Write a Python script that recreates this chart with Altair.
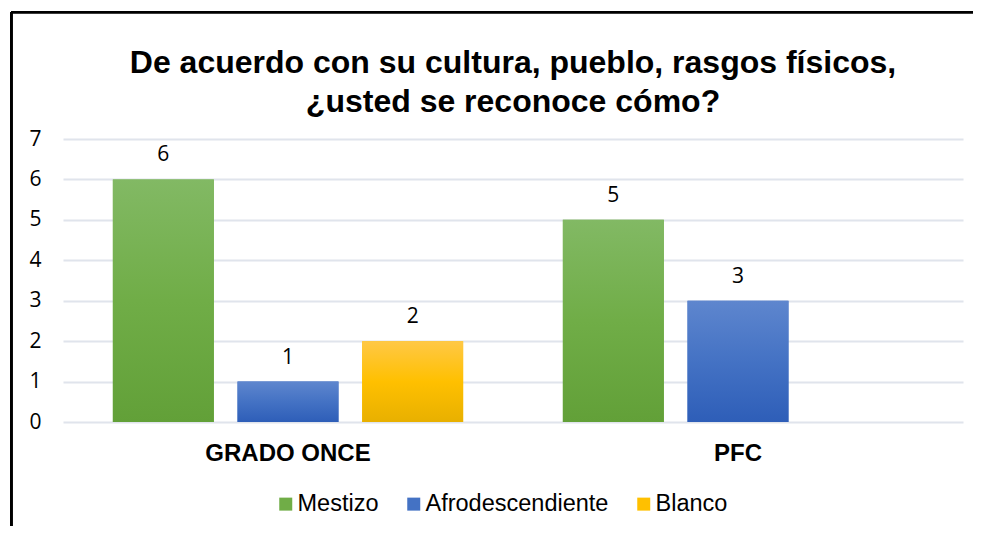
import altair as alt
import pandas as pd

groups = ["GRADO ONCE", "GRADO ONCE", "GRADO ONCE", "PFC", "PFC"]
series = ["Mestizo", "Afrodescendiente", "Blanco", "Mestizo", "Afrodescendiente"]
values = [6, 1, 2, 5, 3]

series_order = ["Mestizo", "Afrodescendiente", "Blanco"]
group_order = ["GRADO ONCE", "PFC"]
y_ticks = [0, 1, 2, 3, 4, 5, 6, 7]
title_lines = ["De acuerdo con su cultura, pueblo, rasgos físicos,", "¿usted se reconoce cómo?"]

base_colors = ["#70ad47", "#4472c4", "#ffc000"]
gradients = {
    "Mestizo": ["#82b964", "#70ad47", "#62a038"],
    "Afrodescendiente": ["#5e86ce", "#4472c4", "#2e5eb8"],
    "Blanco": ["#ffc846", "#ffc000", "#e8b000"],
}

df = pd.DataFrame({"grupo": groups, "serie": series, "valor": values})

W, H = 900, 283
PAD_L, PAD_T = 55, 131
SVG_W, SVG_H = 965, 518

x_enc = alt.X("grupo:N", sort=group_order,
              scale=alt.Scale(domain=group_order, paddingInner=0, paddingOuter=0),
              axis=alt.Axis(title=None, labelAngle=0, ticks=False, domain=False, grid=False,
                            labelFont="Liberation Sans", labelFontWeight="bold",
                            labelFontSize=24, labelColor="#000000",
                            labelBaseline="alphabetic", labelPadding=38))
xo_enc = alt.XOffset("serie:N", sort=series_order,
                     scale=alt.Scale(domain=series_order, paddingInner=0.19, paddingOuter=0.4))
y_enc = alt.Y("valor:Q", scale=alt.Scale(domain=[0, 7], nice=False),
              axis=alt.Axis(title=None, values=y_ticks, ticks=False, domain=False,
                            grid=True, gridColor="#e0e4ec", gridWidth=2,
                            labelFont="Open Sans", labelFontSize=21, labelColor="#000000",
                            labelPadding=22))

base = alt.Chart(df).mark_bar().encode(
    x=x_enc, xOffset=xo_enc, y=y_enc,
    color=alt.Color("serie:N", sort=series_order,
                    scale=alt.Scale(domain=series_order, range=base_colors),
                    legend=alt.Legend(title=None, orient="none", direction="horizontal",
                                      legendX=211, legendY=353, padding=0,
                                      symbolType="square", symbolSize=169,
                                      symbolStrokeWidth=0,
                                      labelFont="Liberation Sans", labelFontSize=23.5,
                                      labelColor="#000000", labelOffset=0,
                                      labelLimit=400, columnPadding=23)),
)

layers = [base]
for s in series_order:
    c = gradients[s]
    layers.append(
        alt.Chart(df).transform_filter(alt.datum.serie == s).mark_bar(
            fill=alt.Gradient(gradient="linear", x1=0, x2=0, y1=0, y2=1,
                              stops=[alt.GradientStop(color=c[0], offset=0),
                                     alt.GradientStop(color=c[1], offset=0.5),
                                     alt.GradientStop(color=c[2], offset=1)])
        ).encode(x=x_enc, xOffset=xo_enc, y=y_enc)
    )

labels = alt.Chart(df).mark_text(
    font="Open Sans", fontSize=21, color="#000000", baseline="alphabetic", dy=-18
).encode(x=x_enc, xOffset=xo_enc, y=y_enc, text=alt.Text("valor:Q"))
layers.append(labels)

left = -(PAD_L - 3.3)
top = -(PAD_T - 4.2)
border_v = alt.Chart(df).mark_rule(color="#000000", strokeWidth=2.3).encode(
    x=alt.value(left), y=alt.value(top), y2=alt.value(SVG_H - PAD_T))
border_h = alt.Chart(df).mark_rule(color="#000000", strokeWidth=2.3).encode(
    x=alt.value(left), x2=alt.value(SVG_W - PAD_L), y=alt.value(top))
layers += [border_v, border_h]

chart = alt.layer(*layers).properties(
    width=W, height=H,
    title=alt.Title(title_lines, anchor="middle", frame="group", font="Liberation Sans",
                    fontSize=32, fontWeight="bold", color="#000000", lineHeight=39,
                    baseline="alphabetic", offset=-133),
    autosize=alt.AutoSizeParams(type="none"),
    padding={"left": PAD_L, "top": PAD_T, "right": SVG_W - PAD_L - W, "bottom": SVG_H - PAD_T - H},
).configure(background="#ffffff").configure_view(stroke=None)

chart.save("out.html", embed_options={"renderer": "svg", "actions": False})
